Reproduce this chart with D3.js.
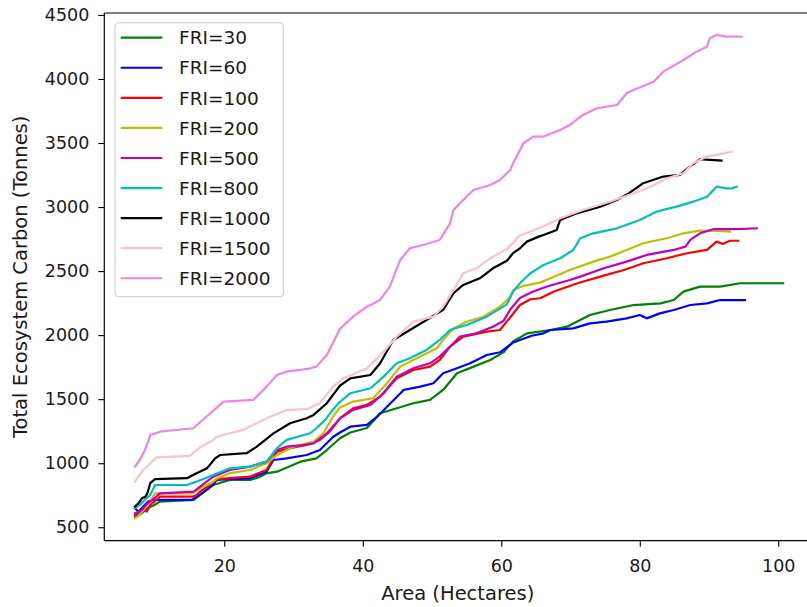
<!DOCTYPE html>
<html>
<head>
<meta charset="utf-8">
<script src="https://cdn.jsdelivr.net/npm/d3@7"></script>
<style>
  html, body { margin: 0; padding: 0; background: #fff; }
  svg { display: block; font-family: "DejaVu Sans", sans-serif; }
</style>
</head>
<body>
<svg id="chart" width="807" height="607"></svg>
<script>
// ---- Data (Area in hectares, Total Ecosystem Carbon in tonnes) ----
const fri30 = [[7.1,583],[8.1,609],[8.9,648],[9.9,674],[10.7,700],[15.6,713],[16.5,752],[18.4,830],[20.8,869],[23.7,869],[25,890],[26.1,921],[27.6,934],[31,1012],[33.3,1038],[34.8,1103],[36.7,1195],[38.2,1240],[40.6,1275],[42.5,1390],[44.9,1429],[47.3,1468],[49.7,1494],[51.6,1572],[53.6,1702],[56,1754],[58.4,1806],[60.3,1865],[61.7,1950],[63.7,2014],[67.1,2040],[69.5,2066],[70.9,2105],[72.8,2157],[75.7,2196],[79.1,2235],[83,2248],[84.9,2274],[86.3,2340],[88.7,2379],[91.6,2379],[94.5,2405],[97.4,2405],[100.7,2405]];
const fri60 = [[7.1,648],[7.6,622],[8.3,661],[9.0,700],[9.6,713],[15.3,713],[16.5,755],[18.4,830],[18.9,870],[20.8,875],[23.7,882],[26.1,934],[27.1,1025],[29,1038],[31.9,1064],[33.8,1103],[35.7,1205],[36.7,1240],[38.2,1285],[40.6,1299],[42.1,1364],[44,1468],[45.9,1572],[48.3,1598],[50.2,1624],[51.6,1702],[53.6,1741],[55.5,1780],[57.9,1845],[59.8,1866],[61.7,1942],[64.4,1995],[66.1,2014],[67.1,2040],[70.4,2053],[72.8,2092],[75.2,2105],[78.1,2131],[80,2157],[81,2131],[82.9,2170],[84.9,2196],[87.3,2235],[89.7,2248],[91.6,2274],[95.2,2274]];
const fri100 = [[7.1,609],[8.3,635],[8.8,622],[9.3,674],[10.2,713],[10.7,739],[15.5,739],[16,752],[16.5,778],[17.9,830],[18.9,875],[20.8,883],[23.7,895],[26.1,947],[27.6,1090],[29.5,1117],[31.9,1142],[33.8,1181],[35.2,1246],[36.7,1350],[38.6,1429],[40.6,1455],[42.5,1520],[44.9,1663],[47.3,1728],[49.7,1754],[51.1,1806],[52.6,1910],[54.5,1988],[57.9,2027],[59.8,2040],[61.3,2140],[62.7,2235],[64.2,2280],[65.6,2288],[67.6,2340],[71,2405],[74.3,2457],[77.7,2509],[80.5,2561],[83.9,2600],[86.8,2639],[89.7,2665],[91.1,2730],[92,2712],[93,2737],[94.2,2737]];
const fri200 = [[7.1,570],[7.8,596],[8.5,648],[9.3,700],[10,765],[15.3,765],[16.4,800],[18.4,856],[18.9,880],[20.8,922],[23.7,947],[26.1,999],[27.6,1064],[30,1129],[32.9,1168],[34.3,1234],[35.7,1364],[36.7,1435],[38.6,1481],[41.5,1507],[43.5,1624],[45.4,1754],[47.8,1819],[50.7,1897],[51.6,1962],[53.1,2053],[55,2105],[57.4,2144],[59.8,2222],[61.3,2300],[61.7,2350],[63.2,2385],[65.6,2410],[67.1,2444],[69.9,2509],[73.3,2574],[75.7,2613],[78.1,2665],[80.5,2717],[83.9,2756],[86.3,2795],[88.7,2816],[91.1,2813],[93,2808]];
const fri500 = [[7.1,596],[8.1,635],[8.9,687],[9.9,726],[10.7,765],[15.6,778],[16.5,817],[18.4,895],[20.8,947],[23.7,973],[26.1,1012],[27.6,1103],[29,1129],[31.4,1142],[32.9,1155],[34.8,1233],[36.7,1350],[38.6,1416],[41.1,1455],[43,1546],[44.9,1676],[47.3,1741],[49.7,1780],[51.1,1832],[52.6,1910],[54,1988],[56.4,2014],[58.8,2066],[60.3,2110],[61.3,2200],[62.7,2290],[64.6,2340],[66.6,2380],[69.9,2430],[71.4,2457],[74.8,2522],[78.1,2574],[81,2626],[84.9,2665],[86.6,2691],[87.3,2743],[88.7,2795],[90.6,2827],[92,2827],[94,2827],[96.9,2834]];
const fri800 = [[7.1,648],[7.8,674],[8.5,713],[9.3,752],[10,830],[14.6,830],[16,856],[18.4,908],[20.8,960],[23.7,973],[26.1,1012],[27.6,1117],[29,1182],[32.4,1234],[33.3,1273],[34.6,1340],[35.7,1420],[36.7,1480],[38.2,1546],[41.1,1585],[43,1676],[44.9,1780],[46.8,1819],[49.2,1884],[51.1,1962],[52.6,2040],[55,2079],[57.9,2144],[60.8,2240],[61.7,2340],[62.7,2405],[64.2,2483],[66.1,2548],[68.5,2600],[70.4,2665],[71.4,2756],[73.3,2795],[76.7,2834],[80,2899],[82.4,2964],[85.3,3003],[87.7,3042],[89.7,3081],[91.1,3159],[92.5,3146],[93.3,3146],[94,3159]];
const fri1000 = [[7.1,661],[7.6,687],[8.1,726],[8.6,739],[8.9,765],[9.3,844],[10,875],[14.6,883],[16,922],[17.5,960],[18.7,1039],[19.4,1064],[23.2,1078],[24.7,1129],[27.1,1233],[29.5,1312],[31.9,1351],[32.9,1377],[34.8,1468],[35.7,1533],[36.7,1605],[38.2,1663],[41.1,1689],[42.5,1780],[44.4,1962],[46.8,2040],[49.2,2118],[51.6,2197],[53.1,2327],[54.5,2392],[56.9,2444],[58.8,2522],[60.8,2580],[61.7,2640],[62.7,2678],[63.7,2730],[65.4,2769],[66.1,2782],[68,2821],[68.5,2899],[70.9,2951],[74.3,3003],[76.7,3055],[78.5,3110],[80.5,3186],[83.4,3238],[85.8,3251],[87.2,3316],[88.7,3373],[90.1,3368],[91.8,3363]];
const fri1500 = [[7.1,856],[8.3,947],[10.2,1045],[15,1058],[16.5,1123],[18.4,1182],[18.9,1207],[20.8,1234],[22.7,1260],[26.1,1351],[29,1416],[31.9,1422],[33.8,1468],[35.7,1598],[37.2,1663],[40.6,1741],[43,1871],[44.9,1988],[47.3,2105],[50.2,2144],[51.6,2222],[53.1,2353],[54.5,2483],[56.4,2522],[58.4,2600],[60.8,2672],[62.7,2780],[64.5,2815],[66.1,2850],[68.5,2912],[71.8,2977],[75.7,3042],[79.1,3108],[81.5,3159],[83.9,3224],[86.3,3264],[87.7,3342],[89.7,3394],[91.1,3407],[93.3,3433]];
const fri2000 = [[7.1,973],[7.8,1025],[8.5,1100],[9.0,1168],[9.3,1220],[10.7,1246],[15.5,1273],[16.5,1320],[19.9,1481],[24.2,1494],[26.1,1598],[27.6,1689],[29,1715],[30.9,1728],[32.4,1741],[33.3,1754],[34.8,1845],[35.7,1940],[36.7,2050],[38.6,2144],[40.6,2222],[42.5,2275],[43.9,2378],[45.4,2587],[46.8,2678],[48.7,2704],[51.1,2743],[52.6,2873],[53.1,2977],[54.5,3055],[56,3133],[58.4,3172],[59.8,3211],[61.3,3290],[61.7,3342],[63.2,3498],[64.6,3550],[66.1,3550],[68.5,3602],[69.9,3641],[71.8,3719],[73.8,3771],[76.7,3797],[78.1,3888],[79.1,3914],[82,3979],[83.4,4057],[86.3,4148],[88.2,4213],[89.7,4252],[90.1,4318],[91.1,4344],[92.5,4330],[94.7,4330]];

const seriesNames = ["FRI=30","FRI=60","FRI=100","FRI=200","FRI=500","FRI=800","FRI=1000","FRI=1500","FRI=2000"];
const seriesColors = ["#008000","#0000ff","#ff0000","#bfbf00","#bf00bf","#00bfbf","#000000","#ffc0cb","#ee82ee"];
const seriesData = [fri30, fri60, fri100, fri200, fri500, fri800, fri1000, fri1500, fri2000];

const xTicks = [20, 40, 60, 80, 100];
const yTicks = [500, 1000, 1500, 2000, 2500, 3000, 3500, 4000, 4500];
const xLabel = "Area (Hectares)";
const yLabel = "Total Ecosystem Carbon (Tonnes)";

// ---- Layout ----
const svg = d3.select("#chart");
const pL = 104.3, pR = 811.3, pT = 13, pB = 540.7;
const x = d3.scaleLinear().domain([2.67, 104.77]).range([pL, pR]);
const y = d3.scaleLinear().domain([395, 4515]).range([pB, pT]);
const textColor = "#1a1a1a";

// clip
svg.append("defs").append("clipPath").attr("id", "plotclip")
  .append("rect").attr("x", pL).attr("y", pT).attr("width", pR - pL).attr("height", pB - pT);

// lines
const line = d3.line().x(d => x(d[0])).y(d => y(d[1])).curve(d3.curveLinear);
const gLines = svg.append("g").attr("clip-path", "url(#plotclip)");
seriesData.forEach((data, i) => {
  gLines.append("path")
    .datum(data)
    .attr("d", line)
    .attr("fill", "none")
    .attr("stroke", seriesColors[i])
    .attr("stroke-width", 2.2)
    .attr("stroke-linejoin", "round")
    .attr("stroke-linecap", "square");
});

// axes
const xAxis = d3.axisBottom(x).tickValues(xTicks).tickSize(6).tickPadding(12.5).tickFormat(d3.format("d"));
const yAxis = d3.axisLeft(y).tickValues(yTicks).tickSize(6).tickPadding(9).tickFormat(d3.format("d"));

const gx = svg.append("g").attr("transform", `translate(0,${pB})`).call(xAxis);
const gy = svg.append("g").attr("transform", `translate(${pL},0)`).call(yAxis);
[gx, gy].forEach(g => {
  g.select(".domain").remove();
  g.selectAll(".tick line").attr("stroke", "#000").attr("stroke-width", 1.1);
  g.selectAll(".tick text").attr("fill", textColor).style("font-size", "17.5px")
   .style("font-family", "'DejaVu Sans', sans-serif");
});
gx.selectAll(".tick text").attr("dy", "0.71em");

// spines
const spine = svg.append("g").attr("stroke", "#000").attr("stroke-width", 1.2).attr("fill", "none");
spine.append("line").attr("x1", pL).attr("x2", pL).attr("y1", pT).attr("y2", pB);
spine.append("line").attr("x1", pL).attr("x2", pR).attr("y1", pB).attr("y2", pB);
spine.append("line").attr("x1", pL).attr("x2", pR).attr("y1", pT).attr("y2", pT);
spine.append("line").attr("x1", pR).attr("x2", pR).attr("y1", pT).attr("y2", pB);

// axis labels
svg.append("text")
  .attr("x", (pL + pR) / 2).attr("y", 600)
  .attr("text-anchor", "middle").attr("fill", textColor)
  .style("font-size", "19.5px").text(xLabel);
svg.append("text")
  .attr("transform", `translate(26.8,${(pT + pB) / 2}) rotate(-90)`)
  .attr("text-anchor", "middle").attr("fill", textColor)
  .style("font-size", "19.5px").text(yLabel);

// legend
const legend = svg.append("g");
legend.append("rect")
  .attr("x", 115).attr("y", 22.7).attr("width", 168.3).attr("height", 274)
  .attr("rx", 4).attr("ry", 4)
  .attr("fill", "#fff").attr("fill-opacity", 0.8)
  .attr("stroke", "#cccccc").attr("stroke-width", 1.1);
seriesNames.forEach((name, i) => {
  const cy = 37.7 + i * 30.07;
  legend.append("line")
    .attr("x1", 120.7).attr("x2", 162.3).attr("y1", cy).attr("y2", cy)
    .attr("stroke", seriesColors[i]).attr("stroke-width", 2.2);
  legend.append("text")
    .attr("x", 179).attr("y", cy + 6.7)
    .attr("fill", textColor).style("font-size", "18.5px")
    .text(name);
});
</script>
</body>
</html>
